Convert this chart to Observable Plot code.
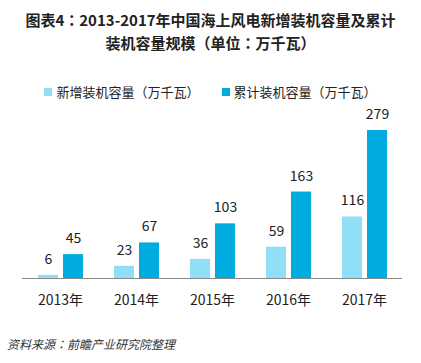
<!DOCTYPE html>
<html>
<head>
<meta charset="utf-8">
<script src="https://cdn.jsdelivr.net/npm/d3@7"></script>
<script src="https://cdn.jsdelivr.net/npm/@observablehq/plot@0.6"></script>
<style>
  html, body { margin: 0; padding: 0; background: #fff; }
  body { width: 421px; height: 363px; position: relative; overflow: hidden;
         font-family: "Noto Sans CJK SC", "Noto Sans", sans-serif; color: #222; }
  #title { position: absolute; top: 8px; left: 0; width: 421px; text-align: center;
           font-size: 15px; font-weight: bold; line-height: 23px; color: #222; }
  #title .c { font-family: "Noto Sans CJK TC", "Noto Sans CJK SC", sans-serif; }
  #legend { position: absolute; top: 83px; left: 0; width: 421px; display: flex;
            justify-content: center; gap: 22px; font-size: 13px; color: #222; line-height: 18px; }
  #legend span.item { display: flex; align-items: center; }
  #legend span.sw { display: inline-block; width: 8px; height: 8px; margin-right: 4px; }
  #chart { position: absolute; top: 100px; left: 0; }
  #caption { position: absolute; top: 335px; left: 7px; font-size: 12px; font-style: italic; color: #333; }
  #caption .c { font-family: "Noto Sans CJK TC", "Noto Sans CJK SC", sans-serif; }
</style>
</head>
<body>
<div id="title">图表4<span class="c">：</span>2013-2017年中国海上风电新增装机容量及累计<br>装机容量规模<span class="c">（</span>单位<span class="c">：</span>万千瓦<span class="c">）</span></div>
<div id="legend"></div>
<div id="chart"></div>
<div id="caption">资料来源<span class="c">：</span>前瞻产业研究院整理</div>
<script>
const years = ["2013年", "2014年", "2015年", "2016年", "2017年"];
const newAdded = [6, 23, 36, 59, 116];
const cumulative = [45, 67, 103, 163, 279];
const seriesNames = ["新增装机容量（万千瓦）", "累计装机容量（万千瓦）"];
const seriesColors = ["#8fdff7", "#00abe0"];

const data = years.flatMap((y, i) => [
  {year: y, series: seriesNames[0], value: newAdded[i]},
  {year: y, series: seriesNames[1], value: cumulative[i]}
]);

const legend = document.getElementById("legend");
seriesNames.forEach((n, i) => {
  const item = document.createElement("span");
  item.className = "item";
  const sw = document.createElement("span");
  sw.className = "sw";
  sw.style.background = seriesColors[i];
  item.appendChild(sw);
  item.appendChild(document.createTextNode(n));
  legend.appendChild(item);
});

const chart = Plot.plot({
  width: 421,
  height: 218,
  marginTop: 30,
  marginBottom: 40,
  marginLeft: 22,
  marginRight: 19,
  style: {fontSize: "14px", fontFamily: "'Noto Sans CJK SC', 'Noto Sans', sans-serif", color: "#222", background: "transparent"},
  fx: {domain: years, padding: 0, label: null, axis: "bottom", tickSize: 0, tickPadding: 17},
  x: {axis: null, domain: seriesNames, paddingInner: 0.21, paddingOuter: 0.567},
  y: {axis: null, domain: [0, 279]},
  color: {domain: seriesNames, range: seriesColors},
  marks: [
    Plot.barY(data, {fx: "year", x: "series", y: "value", fill: "series"}),
    Plot.ruleY([0], {stroke: "#8a8a8a", strokeWidth: 1}),
    Plot.text(data, {fx: "year", x: "series", y: "value", text: d => String(d.value), dy: -16, fontSize: 14, fill: "#222"})
  ]
});
document.getElementById("chart").appendChild(chart);
</script>
</body>
</html>
